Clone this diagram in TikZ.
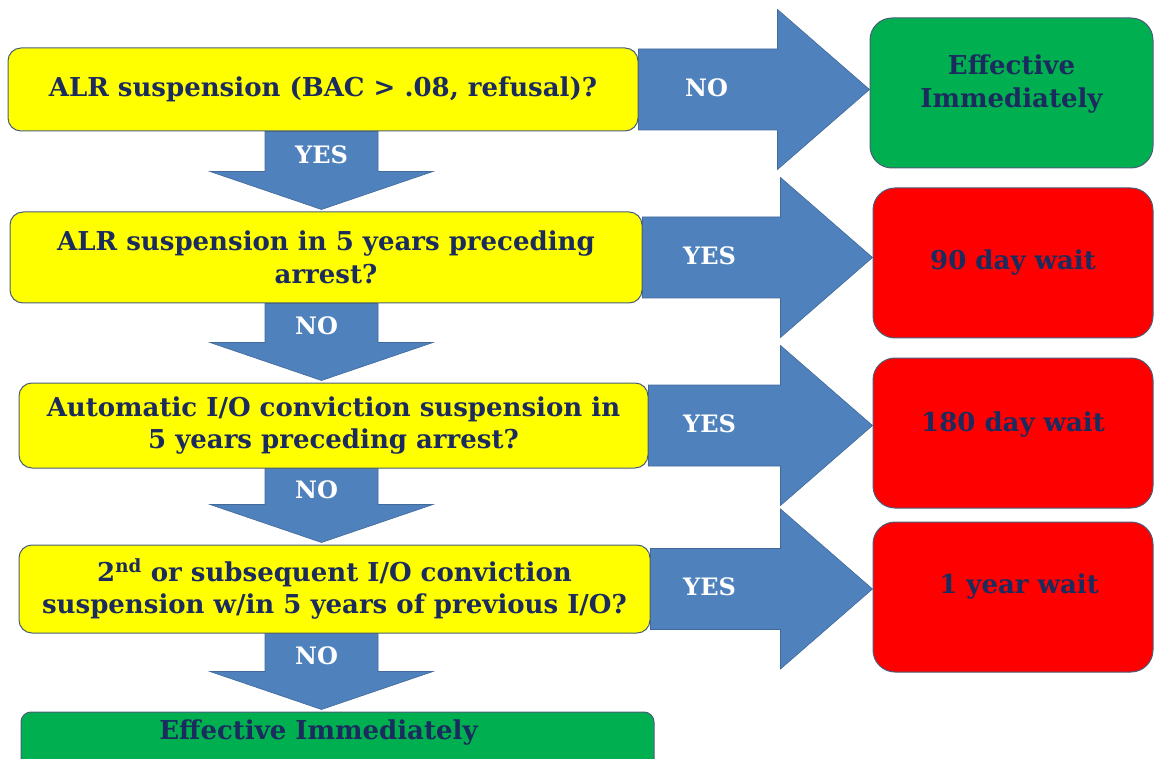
\documentclass[tikz,border=0pt]{standalone}
\usepackage{fontspec}
\setmainfont{DejaVu Serif}
\usetikzlibrary{calc}
\pgfdeclarelayer{background}
\pgfsetlayers{background,main}
\definecolor{navy}{HTML}{1B2B5E}
\definecolor{ayellow}{HTML}{FFFF00}
\definecolor{agreen}{HTML}{00B050}
\definecolor{ared}{HTML}{FF0000}
\definecolor{ablue}{HTML}{4F81BD}
\definecolor{aedge}{HTML}{41699A}
\definecolor{bedge}{HTML}{4A5E78}
\newcommand\qfont{\bfseries\fontsize{26}{32.5}\selectfont}
\newcommand\lfont{\bfseries\fontsize{24}{28}\selectfont}
\tikzset{
 qbox/.style={draw=bedge, line width=1pt, fill=ayellow, rounded corners=13pt, align=center, text=navy, font=\qfont, inner sep=0pt},
 rbox/.style={draw=bedge, line width=1pt, rounded corners=22pt, minimum width=280pt, minimum height=150pt, inner sep=0pt, text=navy, font=\qfont, align=center},
 rtext/.style={text=navy, font=\qfont, align=center, inner sep=0pt},
 blockarrow/.style={fill=ablue, draw=aedge, line width=0.6pt, line join=miter},
 arrowlabel/.style={text=white, font=\lfont, inner sep=0pt},
}
\newcommand\rightblock[3]{%
 \path (#1.east) coordinate (rs);
 \path (#2.west |- #1.east) coordinate (rt);
 \path[blockarrow] ($(rs)+(0,-40.5)$) -- ($(rt)+(-92,-40.5)$) -- ($(rt)+(-92,-80)$) -- (rt) -- ($(rt)+(-92,80)$) -- ($(rt)+(-92,40.5)$) -- ($(rs)+(0,40.5)$) -- cycle;
 \node[arrowlabel] at ($(rt)+(-163,-2)$) {#3};
}
\newcommand\downblock[4]{%
 \path (axis |- #1.south) coordinate (ds);
 \path ($(axis |- #2.north)+(0,-2)$) coordinate (dt);
 \path ($(dt)+(0,-38)$) coordinate (dh);
 \path ($(ds)!0.5!(dh)$) coordinate (dm);
 \path[blockarrow] ($(ds)+(-56.5,0)$) -- ($(dh)+(-56.5,0)$) -- ($(dh)+(-111.5,0)$) -- (dt) -- ($(dh)+(111.5,0)$) -- ($(dh)+(56.5,0)$) -- ($(ds)+(56.5,0)$) -- cycle;
 \node[arrowlabel] at ($(dm)+(#4,3)$) {#3};
}
\begin{document}
\begin{tikzpicture}[x=1pt,y=-1pt]
\useasboundingbox (0,0) rectangle (1154,759);
\clip (0,0) rectangle (1154,759);
\coordinate (axis) at (321.5,0);
% questions
\node[qbox, minimum width=630pt, minimum height=83pt] (q1) at (323,89.5) {ALR suspension (BAC > .08, refusal)?};
\node[qbox, minimum width=632pt, minimum height=91pt] (q2) at (326,257.5) {ALR suspension in 5 years preceding\\arrest?};
\node[qbox, minimum width=629pt, minimum height=85pt] (q3) at (333.5,425.5) {Automatic I/O conviction suspension in\\5 years preceding arrest?};
\node[qbox, minimum width=631pt, minimum height=88pt] (q4) at (334.5,589) {2\textsuperscript{nd} or subsequent I/O conviction\\suspension w/in 5 years of previous I/O?};
\node[qbox, fill=agreen, minimum width=633pt, minimum height=60pt, rounded corners=10pt, label={[rtext, yshift=9pt, xshift=-19pt]center:Effective Immediately}] (e2) at (337.5,742) {};
% outcomes
\node[rbox, fill=agreen, minimum width=283pt, label={[rtext, yshift=9pt]center:{Effective\\Immediately}}] (r1) at (1011.5,93) {};
\node[rbox, fill=ared] (r2) at (1013,263) {90 day wait};
\node[rbox, fill=ared, label={[rtext, yshift=8pt]center:180 day wait}] (r3) at (1013,433) {};
\node[rbox, fill=ared, label={[rtext, yshift=10pt, xshift=6pt]center:1 year wait}] (r4) at (1013,597) {};
% block arrows
\begin{pgfonlayer}{background}
\rightblock{q1}{r1}{NO}
\rightblock{q2}{r2}{YES}
\rightblock{q3}{r3}{YES}
\rightblock{q4}{r4}{YES}
\downblock{q1}{q2}{YES}{0}
\downblock{q2}{q3}{NO}{-5}
\downblock{q3}{q4}{NO}{-5}
\downblock{q4}{e2}{NO}{-5}
\end{pgfonlayer}
\end{tikzpicture}
\end{document}
